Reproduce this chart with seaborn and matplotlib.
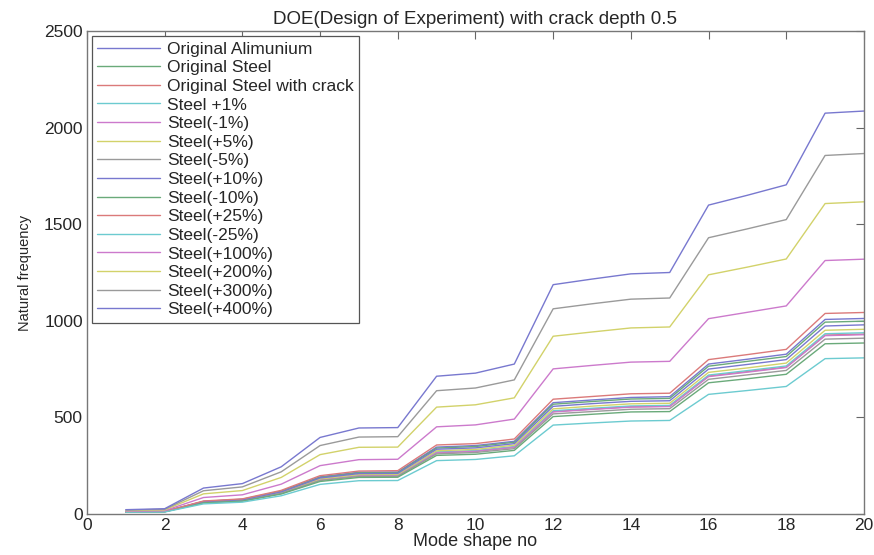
import numpy as np
import pandas as pd
import matplotlib
matplotlib.use("Agg")
import matplotlib.pyplot as plt
import seaborn as sns

modes = list(range(1, 21))

series_names = [
    "Original Alimunium", "Original Steel", "Original Steel with crack",
    "Steel +1%", "Steel(-1%)", "Steel(+5%)", "Steel(-5%)", "Steel(+10%)",
    "Steel(-10%)", "Steel(+25%)", "Steel(-25%)", "Steel(+100%)",
    "Steel(+200%)", "Steel(+300%)", "Steel(+400%)",
]

alu      = [11, 13, 65, 76, 118, 192, 216, 217, 346, 354, 376, 576, 590, 603, 607, 776, 801, 827, 1007, 1012]
steel    = [11, 13, 64, 75, 117, 189, 213, 214, 341, 349, 371, 568, 582, 595, 598, 765, 790, 815, 993, 998]
crack    = [10, 12, 60, 70, 109, 177, 199, 200, 318, 325, 346, 530, 543, 555, 558, 714, 737, 760, 926, 931]
p1       = [10, 12, 60, 70, 110, 178, 200, 201, 321, 328, 349, 534, 547, 559, 562, 719, 742, 766, 933, 938]
m1       = [10, 12, 60, 70, 108, 176, 198, 199, 317, 324, 345, 528, 541, 553, 556, 711, 734, 758, 923, 928]
p5       = [10, 12, 62, 72, 112, 181, 204, 205, 327, 334, 356, 544, 558, 570, 573, 733, 756, 781, 951, 956]
m5       = [10, 12, 58, 68, 106, 173, 194, 195, 311, 318, 338, 518, 530, 542, 545, 697, 720, 743, 905, 910]
p10      = [10, 13, 63, 73, 114, 186, 209, 210, 335, 342, 364, 557, 571, 583, 586, 750, 774, 799, 973, 979]
m10      = [9, 11, 57, 66, 103, 168, 189, 190, 303, 309, 329, 504, 516, 528, 530, 679, 700, 723, 881, 885]
p25      = [11, 13, 67, 78, 122, 198, 222, 224, 357, 364, 388, 594, 608, 622, 625, 799, 825, 852, 1038, 1043]
m25      = [9, 10, 52, 61, 94, 153, 172, 173, 276, 282, 301, 460, 471, 481, 484, 619, 639, 660, 804, 808]
p100     = [14, 17, 85, 99, 154, 250, 281, 283, 451, 461, 491, 751, 769, 786, 790, 1011, 1044, 1077, 1312, 1319]
p200     = [17, 21, 104, 121, 189, 307, 345, 346, 553, 565, 601, 920, 942, 963, 968, 1238, 1278, 1320, 1607, 1616]
p300     = [20, 24, 120, 140, 218, 354, 398, 400, 638, 652, 694, 1062, 1088, 1112, 1118, 1430, 1476, 1524, 1856, 1866]
p400     = [22, 27, 134, 157, 244, 396, 445, 447, 713, 729, 776, 1187, 1216, 1243, 1250, 1599, 1650, 1704, 2075, 2086]

all_values = [alu, steel, crack, p1, m1, p5, m5, p10, m10, p25, m25, p100, p200, p300, p400]

x_ticks = [0, 2, 4, 6, 8, 10, 12, 14, 16, 18, 20]
y_ticks = [0, 500, 1000, 1500, 2000, 2500]

rows = []
for name, vals in zip(series_names, all_values):
    for m, v in zip(modes, vals):
        rows.append({"mode": m, "freq": v, "series": name})
df = pd.DataFrame(rows)

base_colors = ["#7878cf", "#6aaa7a", "#db7a7a", "#6ccbd0", "#cc7acc", "#d2d26a", "#9a9a9a"]
palette = [base_colors[i % 7] for i in range(len(series_names))]

sns.set_style("white")
plt.rcParams["font.family"] = ["Liberation Sans", "DejaVu Sans"]

fig = plt.figure(figsize=(8.74, 5.55), dpi=100)
ax = fig.add_axes([0.0995, 0.074, 0.889, 0.870])

sns.lineplot(data=df, x="mode", y="freq", hue="series", hue_order=series_names,
             palette=palette, linewidth=1.0, ax=ax, legend=True)

ax.set_xlim(0, 20)
ax.set_ylim(0, 2500)
ax.set_xticks(x_ticks)
ax.set_yticks(y_ticks)
ax.tick_params(direction="in", length=6, width=0.8, color="#666666",
               labelsize=12.5, top=True, right=True, pad=3)
for s in ax.spines.values():
    s.set_color("#777777")
    s.set_linewidth(1.0)

ax.set_xlabel("Mode shape no", fontsize=13, labelpad=0)
ax.set_ylabel("Natural frequency", fontsize=10.5, labelpad=9)
ax.set_title("DOE(Design of Experiment) with crack depth 0.5", fontsize=13.5, pad=5)

leg = ax.legend(loc="upper left", fontsize=12.5, frameon=True, fancybox=False,
                borderaxespad=0.3, labelspacing=0.2, handlelength=3.6,
                handletextpad=0.4, borderpad=0.3)
leg.get_frame().set_edgecolor("#555555")
leg.get_frame().set_linewidth(0.9)
leg.get_frame().set_alpha(1)

fig.savefig("out.png", dpi=100)
